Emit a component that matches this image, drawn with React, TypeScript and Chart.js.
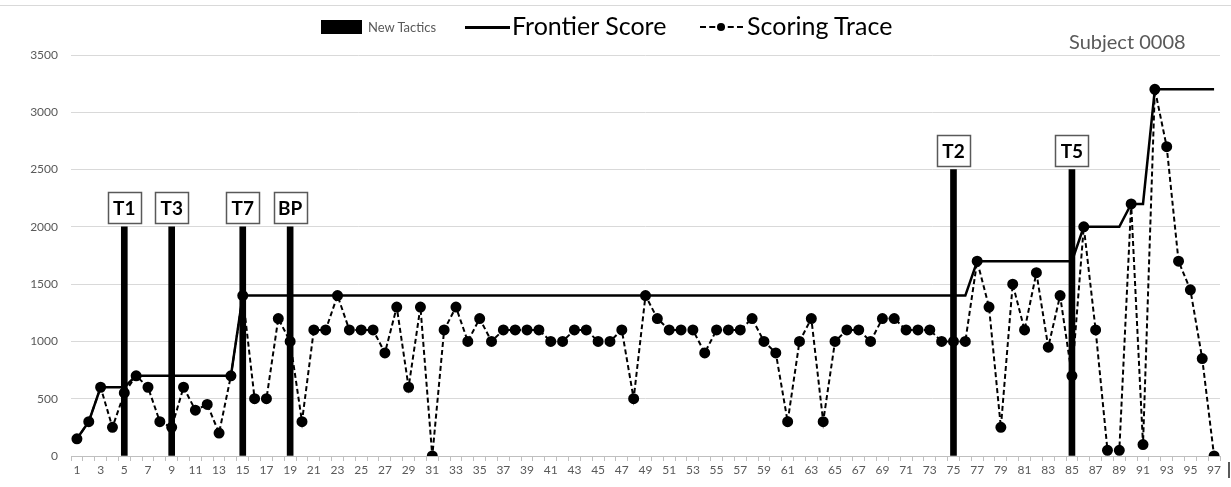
import React, { useEffect, useRef } from 'react';
import { Chart, registerables } from 'chart.js';

Chart.register(...registerables);

const categories: string[] = [
  '1','2','3','4','5','6','7','8','9','10','11','12','13','14','15','16','17','18','19','20',
  '21','22','23','24','25','26','27','28','29','30','31','32','33','34','35','36','37','38','39','40',
  '41','42','43','44','45','46','47','48','49','50','51','52','53','54','55','56','57','58','59','60',
  '61','62','63','64','65','66','67','68','69','70','71','72','73','74','75','76','77','78','79','80',
  '81','82','83','84','85','86','87','88','89','90','91','92','93','94','95','96','97',
];

const scoringTrace: number[] = [
  150, 300, 600, 250, 550, 700, 600, 300, 250, 600,
  400, 450, 200, 700, 1400, 500, 500, 1200, 1000, 300,
  1100, 1100, 1400, 1100, 1100, 1100, 900, 1300, 600, 1300,
  0, 1100, 1300, 1000, 1200, 1000, 1100, 1100, 1100, 1100,
  1000, 1000, 1100, 1100, 1000, 1000, 1100, 500, 1400, 1200,
  1100, 1100, 1100, 900, 1100, 1100, 1100, 1200, 1000, 900,
  300, 1000, 1200, 300, 1000, 1100, 1100, 1000, 1200, 1200,
  1100, 1100, 1100, 1000, 1000, 1000, 1700, 1300, 250, 1500,
  1100, 1600, 950, 1400, 700, 2000, 1100, 50, 50, 2200,
  100, 3200, 2700, 1700, 1450, 850, 0,
];

const frontierScore: number[] = [
  150, 300, 600, 600, 600, 700, 700, 700, 700, 700,
  700, 700, 700, 700, 1400, 1400, 1400, 1400, 1400, 1400,
  1400, 1400, 1400, 1400, 1400, 1400, 1400, 1400, 1400, 1400,
  1400, 1400, 1400, 1400, 1400, 1400, 1400, 1400, 1400, 1400,
  1400, 1400, 1400, 1400, 1400, 1400, 1400, 1400, 1400, 1400,
  1400, 1400, 1400, 1400, 1400, 1400, 1400, 1400, 1400, 1400,
  1400, 1400, 1400, 1400, 1400, 1400, 1400, 1400, 1400, 1400,
  1400, 1400, 1400, 1400, 1400, 1400, 1700, 1700, 1700, 1700,
  1700, 1700, 1700, 1700, 1700, 2000, 2000, 2000, 2000, 2200,
  2200, 3200, 3200, 3200, 3200, 3200, 3200,
];

const tacticCategories: string[] = ['5', '9', '15', '19', '75', '85'];
const tacticNames: string[] = ['T1', 'T3', 'T7', 'BP', 'T2', 'T5'];
const tacticHeights: number[] = [2000, 2000, 2000, 2000, 2500, 2500];

const yTicks: number[] = [0, 500, 1000, 1500, 2000, 2500, 3000, 3500];

const FONT = 'Lato, "Open Sans", sans-serif';
const GREY = '#595959';

export default function App() {
  const canvasRef = useRef<HTMLCanvasElement>(null);

  useEffect(() => {
    document.body.style.margin = '0';
    const canvas = canvasRef.current;
    if (!canvas) return;

    const barData = categories.map((c) => {
      const i = tacticCategories.indexOf(c);
      return i >= 0 ? tacticHeights[i] : null;
    });

    const tacticLabels = {
      id: 'tacticLabels',
      afterDatasetsDraw(chart: any) {
        const { ctx } = chart;
        const xs = chart.scales.x;
        const ys = chart.scales.y;
        ctx.save();
        tacticCategories.forEach((c, i) => {
          const px = xs.getPixelForValue(categories.indexOf(c));
          const top = ys.getPixelForValue(tacticHeights[i]);
          const w = 33;
          const h = 31;
          const bx = Math.round(px - w / 2) + 0.5;
          const by = Math.round(top - 4 - h) + 0.5;
          ctx.fillStyle = '#ffffff';
          ctx.fillRect(bx, by, w, h);
          ctx.strokeStyle = GREY;
          ctx.lineWidth = 1.5;
          ctx.strokeRect(bx, by, w, h);
          ctx.fillStyle = '#000000';
          ctx.font = `bold 19px ${FONT}`;
          ctx.textAlign = 'center';
          ctx.textBaseline = 'middle';
          ctx.fillText(tacticNames[i], px, by + h / 2 + 1);
        });
        ctx.restore();
      },
    };

    const chart = new Chart(canvas, {
      type: 'bar',
      data: {
        labels: categories,
        datasets: [
          {
            type: 'line',
            label: 'Scoring Trace',
            data: scoringTrace,
            borderColor: '#000000',
            backgroundColor: '#000000',
            borderWidth: 2,
            borderDash: [5, 3],
            pointRadius: 4.5,
            pointBackgroundColor: '#000000',
            pointBorderColor: '#000000',
            tension: 0,
            order: 1,
          } as any,
          {
            type: 'line',
            label: 'Frontier Score',
            data: frontierScore,
            borderColor: '#000000',
            borderWidth: 2.5,
            pointRadius: 0,
            tension: 0,
            order: 2,
          } as any,
          {
            type: 'bar',
            label: 'New Tactics',
            data: barData,
            backgroundColor: '#000000',
            barThickness: 6,
            order: 3,
          } as any,
        ],
      },
      options: {
        animation: false,
        responsive: false,
        layout: { padding: { top: 55, right: 11, left: 0, bottom: 0 } },
        plugins: {
          legend: { display: false },
          tooltip: { enabled: false },
        },
        scales: {
          x: {
            type: 'category',
            offset: true,
            afterFit: (s: any) => { s.height = 31; },
            grid: {
              display: true,
              offset: true,
              drawOnChartArea: false,
              drawTicks: true,
              tickLength: 5,
              color: '#bfbfbf',
            },
            border: { display: true, color: '#bfbfbf', width: 1 },
            ticks: {
              autoSkip: false,
              maxRotation: 0,
              minRotation: 0,
              padding: 2,
              color: GREY,
              font: { family: FONT, size: 12 },
              callback: (_v: any, idx: number) => (idx % 2 === 0 ? categories[idx] : ''),
            },
          },
          y: {
            min: yTicks[0],
            max: yTicks[yTicks.length - 1],
            afterFit: (s: any) => { s.width = 71; },
            afterBuildTicks: (s: any) => { s.ticks = yTicks.map((v) => ({ value: v })); },
            grid: { color: '#d9d9d9', drawTicks: false, lineWidth: 1 },
            border: { display: false },
            ticks: {
              padding: 13,
              color: GREY,
              font: { family: FONT, size: 12 },
              callback: (v: any) => String(v),
            },
          },
        },
      },
      plugins: [tacticLabels],
    });

    return () => chart.destroy();
  }, []);

  const textBase: React.CSSProperties = {
    position: 'absolute',
    fontFamily: FONT,
    whiteSpace: 'nowrap',
    lineHeight: 1,
  };

  return (
    <div style={{ position: 'relative', width: 1231, height: 487, background: '#ffffff', overflow: 'hidden' }}>
      <canvas ref={canvasRef} width={1231} height={487} style={{ display: 'block', width: 1231, height: 487 }} />
      <div style={{ position: 'absolute', left: 0, top: 5, width: 1231, height: 1, background: '#d9d9d9' }} />
      <div style={{ position: 'absolute', left: 321, top: 20, width: 41, height: 14, background: '#000' }} />
      <div style={{ ...textBase, left: 368, top: 21, fontSize: 13, color: GREY }}>New Tactics</div>
      <div style={{ position: 'absolute', left: 465, top: 26, width: 45, height: 2.5, background: '#000' }} />
      <div style={{ ...textBase, left: 512, top: 13, fontSize: 25, color: '#000' }}>Frontier Score</div>
      <div style={{ position: 'absolute', left: 700, top: 26, width: 43, height: 0, borderTop: '2px dashed #000' }} />
      <div style={{ position: 'absolute', left: 717, top: 23, width: 8, height: 8, borderRadius: 4, background: '#000' }} />
      <div style={{ ...textBase, left: 747, top: 13, fontSize: 25, color: '#000' }}>Scoring Trace</div>
      <div style={{ ...textBase, left: 1069, top: 31, fontSize: 20, color: GREY }}>Subject 0008</div>
      <div style={{ position: 'absolute', left: 1228, top: 462, width: 2, height: 16, background: GREY }} />
    </div>
  );
}
